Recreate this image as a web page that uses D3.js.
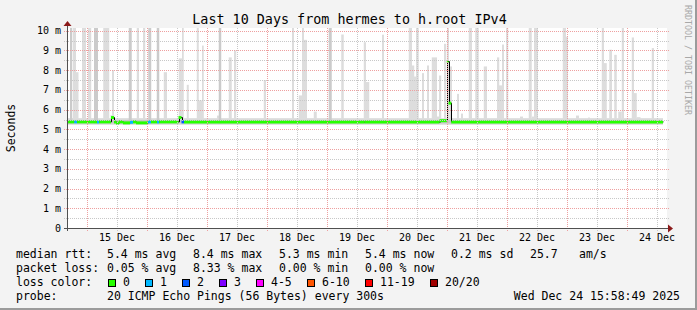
<!DOCTYPE html>
<html>
<head>
<meta charset="utf-8">
<script src="https://cdn.jsdelivr.net/npm/d3@7"></script>
<style>
  html, body { margin: 0; padding: 0; background: #f3f3f3; }
  svg { display: block; font-family: "DejaVu Sans Mono", monospace; }
  text { white-space: pre; }
</style>
</head>
<body>
<svg id="chart" width="697" height="310"></svg>
<script>
// ---- data ----
const title = "Last 10 Days from hermes to h.root IPv4";
const endTime = new Date(2025, 11, 24, 15, 58, 49);
const spanHours = 240;

const yTickValues = [0, 1, 2, 3, 4, 5, 6, 7, 8, 9, 10];
const yTickLabels = ["0", "1 m", "2 m", "3 m", "4 m", "5 m", "6 m", "7 m", "8 m", "9 m", "10 m"];
const dayLabels = ["15 Dec", "16 Dec", "17 Dec", "18 Dec", "19 Dec", "20 Dec", "21 Dec", "22 Dec", "23 Dec", "24 Dec"];
const dayLabelDates = [15, 16, 17, 18, 19, 20, 21, 22, 23, 24].map(d => new Date(2025, 11, d, 12));

// hours since start of graph, median ms, loss colour index
const medianRuns = [
  [0.0, 2.9, 5.38, 0], [2.9, 4.0, 5.38, 1], [4.0, 12.0, 5.38, 0], [12.0, 12.8, 5.38, 1],
  [12.8, 17.6, 5.38, 0], [17.6, 18.8, 5.60, 0], [18.8, 19.6, 5.38, 0], [19.6, 20.8, 5.32, 0],
  [20.8, 22.4, 5.38, 0], [22.4, 25.2, 5.33, 0], [25.2, 26.4, 5.36, 1], [26.4, 27.6, 5.38, 0],
  [27.6, 32.4, 5.33, 0], [32.4, 33.6, 5.38, 1], [33.6, 36.0, 5.38, 0], [36.0, 36.8, 5.38, 1],
  [36.8, 44.6, 5.38, 0], [44.6, 45.8, 5.60, 0], [45.8, 46.8, 5.38, 2], [46.8, 80.0, 5.38, 0],
  [80.0, 119.0, 5.37, 0], [119.0, 149.0, 5.37, 0], [149.0, 151.9, 5.44, 0], [151.9, 152.6, 8.44, 0],
  [152.6, 153.7, 6.33, 0], [153.7, 200.0, 5.38, 0], [200.0, 238.4, 5.38, 0]
];

// smoke: base band [h0, h1, low, high]
const smokeBand = [[0.0, 238.4, 5.23, 5.57]];
const smokeCore = [[0.0, 238.4, 5.30, 5.48]];

// smoke spikes: [h0, h1, top ms, shade]
const smokeSpikes = [
  [1.2, 2.1, 10.5, 2], [2.4, 3.6, 10.5, 1], [3.6, 4.6, 7.9, 1], [6.0, 7.6, 10.5, 1],
  [8.4, 9.7, 10.5, 1], [10.8, 12.4, 10.5, 2], [14.5, 16.9, 10.5, 1], [18.0, 18.8, 8.0, 1],
  [17.4, 19.0, 5.72, 1], [24.7, 25.9, 10.5, 2], [27.9, 28.8, 10.5, 1], [30.4, 31.3, 10.5, 1],
  [32.5, 33.7, 10.5, 2], [35.9, 36.9, 10.5, 2], [38.7, 40.0, 7.9, 1],
  [44.7, 46.0, 8.6, 1], [46.0, 46.7, 10.5, 1], [47.9, 48.7, 7.26, 1], [51.9, 52.7, 10.5, 1],
  [52.0, 54.5, 6.47, 1], [54.0, 54.7, 9.25, 1], [60.0, 61.2, 5.7, 1], [60.7, 61.7, 10.5, 2],
  [64.7, 65.9, 8.65, 1], [66.8, 67.7, 9.0, 1], [78.7, 79.6, 7.5, 1],
  [90.0, 90.8, 10.5, 1], [92.7, 94.0, 6.72, 1], [94.0, 94.8, 10.5, 1], [94.7, 96.0, 9.54, 1],
  [98.7, 99.9, 5.9, 1], [104.7, 105.9, 10.5, 2], [109.7, 110.7, 9.81, 1], [118.7, 119.6, 9.42, 1],
  [119.6, 120.9, 7.4, 1], [126.0, 126.8, 9.8, 1], [136.7, 138.0, 10.5, 1], [138.0, 138.9, 8.24, 1],
  [138.7, 139.6, 7.68, 1], [139.6, 140.7, 10.5, 1], [142.0, 142.8, 7.85, 1], [144.0, 144.8, 8.24, 1],
  [145.9, 148.0, 8.65, 1], [148.0, 148.8, 5.65, 1], [148.8, 149.7, 7.73, 1], [150.8, 151.7, 9.34, 1],
  [152.0, 152.8, 10.5, 1], [152.9, 154.0, 8.19, 1], [156.0, 156.8, 6.8, 1], [157.6, 158.4, 5.8, 1],
  [160.7, 162.0, 10.5, 1], [163.3, 164.7, 10.5, 1], [166.7, 168.0, 8.19, 1], [172.0, 172.9, 8.65, 1],
  [172.0, 174.7, 7.23, 1], [174.0, 174.8, 9.3, 1], [175.6, 176.5, 10.5, 1], [181.2, 182.4, 5.65, 1],
  [184.7, 185.9, 10.5, 1], [186.0, 186.8, 5.65, 1], [186.8, 188.4, 10.5, 1], [198.3, 199.6, 10.5, 1],
  [199.6, 200.4, 9.7, 1], [203.6, 204.8, 5.7, 1], [208.4, 209.2, 5.6, 1],
  [213.9, 214.8, 10.5, 1], [214.3, 215.9, 8.36, 1], [216.9, 218.0, 9.04, 1], [218.9, 219.9, 8.78, 1],
  [220.5, 221.9, 5.9, 1], [221.9, 222.8, 10.5, 1], [225.9, 226.8, 9.66, 1], [226.3, 227.9, 6.84, 1],
  [227.9, 229.4, 5.62, 1], [233.9, 234.8, 9.12, 1]
];

const lossLabels = ["0", "1", "2", "3", "4-5", "6-10", "11-19", "20/20"];
const lossColors = ["#26ff00", "#00b8ff", "#0059ff", "#7e00ff", "#ff00ff", "#ff5500", "#ff0000", "#a10000"];

const rttStats = ["5.4 ms avg", "8.4 ms max", "5.3 ms min", "5.4 ms now", "0.2 ms sd", "25.7", "am/s"];
const lossStats = ["0.05 % avg", "8.33 % max", "0.00 % min", "0.00 % now"];
const probeText = "20 ICMP Echo Pings (56 Bytes) every 300s";
const stampText = "Wed Dec 24 15:58:49 2025";

// ---- layout ----
const svg = d3.select("#chart");
const W = 697, H = 310;
const plot = { left: 67, right: 667, top: 28, bottom: 228 };

const startTime = new Date(+endTime - spanHours * 3600e3);
const hourToDate = h => new Date(+startTime + h * 3600e3);

const x = d3.scaleTime().domain([startTime, endTime]).range([plot.left, plot.right]);
const y = d3.scaleLinear().domain([0, 10.14]).range([plot.bottom, plot.top]);

// background + frame shading
svg.append("rect").attr("width", W).attr("height", H).attr("fill", "#f3f3f3");
svg.append("rect").attr("x", 0).attr("y", H - 2).attr("width", W).attr("height", 2).attr("fill", "#9b9b9b");
svg.append("rect").attr("x", W - 2).attr("y", 0).attr("width", 2).attr("height", H).attr("fill", "#9b9b9b");

// canvas
svg.append("rect")
  .attr("x", plot.left).attr("y", plot.top)
  .attr("width", plot.right - plot.left).attr("height", plot.bottom - plot.top)
  .attr("fill", "#ffffff");

svg.append("defs").append("clipPath").attr("id", "clip")
  .append("rect")
  .attr("x", plot.left).attr("y", plot.top)
  .attr("width", plot.right - plot.left).attr("height", plot.bottom - plot.top);

const g = svg.append("g").attr("clip-path", "url(#clip)");

// smoke
g.selectAll(".band").data(smokeBand).join("rect")
  .attr("x", d => x(hourToDate(d[0])))
  .attr("width", d => x(hourToDate(d[1])) - x(hourToDate(d[0])))
  .attr("y", d => y(d[3]))
  .attr("height", d => y(d[2]) - y(d[3]))
  .attr("fill", "#dddddd");

g.selectAll(".spike").data(smokeSpikes).join("rect")
  .attr("x", d => x(hourToDate(d[0])))
  .attr("width", d => x(hourToDate(d[1])) - x(hourToDate(d[0])))
  .attr("y", d => y(d[2]))
  .attr("height", d => y(5.3) - y(d[2]))
  .attr("fill", d => d[3] === 2 ? "#cbcbcb" : "#dddddd");

g.selectAll(".core").data(smokeCore).join("rect")
  .attr("x", d => x(hourToDate(d[0])))
  .attr("width", d => x(hourToDate(d[1])) - x(hourToDate(d[0])))
  .attr("y", d => y(d[3]))
  .attr("height", d => y(d[2]) - y(d[3]))
  .attr("fill", "#c4c4c4");

// grid
const minorY = d3.range(0.5, 10.1, 1);
const grid = svg.append("g");
grid.selectAll(".hminor").data(minorY).join("line")
  .attr("x1", plot.left - 3).attr("x2", plot.right + 2)
  .attr("y1", d => Math.round(y(d)) + 0.5).attr("y2", d => Math.round(y(d)) + 0.5)
  .attr("stroke", "#c8c8c8").attr("stroke-dasharray", "1,1");
grid.selectAll(".hmajor").data(yTickValues.slice(1)).join("line")
  .attr("x1", plot.left - 3).attr("x2", plot.right + 2)
  .attr("y1", d => Math.round(y(d)) + 0.5).attr("y2", d => Math.round(y(d)) + 0.5)
  .attr("stroke", "#eea0a0").attr("stroke-dasharray", "1,1");

const noons = d3.timeHour.every(12).range(startTime, endTime).filter(d => d.getHours() === 12);
const midnights = d3.timeDay.range(startTime, endTime);
grid.selectAll(".vminor").data(noons).join("line")
  .attr("x1", d => Math.round(x(d)) + 0.5).attr("x2", d => Math.round(x(d)) + 0.5)
  .attr("y1", plot.top).attr("y2", plot.bottom + 3)
  .attr("stroke", "#c8c8c8").attr("stroke-dasharray", "1,1");
grid.selectAll(".vmajor").data(midnights).join("line")
  .attr("x1", d => Math.round(x(d)) + 0.5).attr("x2", d => Math.round(x(d)) + 0.5)
  .attr("y1", plot.top).attr("y2", plot.bottom + 3)
  .attr("stroke", "#eea0a0").attr("stroke-dasharray", "1,1");

// median: thin black step line underneath, loss-coloured pieces on top
const medianPts = [];
medianRuns.forEach(r => { medianPts.push([r[0], r[2]], [r[1], r[2]]); });
g.append("path")
  .datum(medianPts)
  .attr("fill", "none")
  .attr("stroke", "#000")
  .attr("stroke-width", 1)
  .attr("d", d3.line().x(d => Math.round(x(hourToDate(d[0]))) + 0.5).y(d => y(d[1])));

g.selectAll(".med").data(medianRuns).join("line")
  .attr("x1", d => x(hourToDate(d[0])))
  .attr("x2", d => x(hourToDate(d[1])))
  .attr("y1", d => y(d[2])).attr("y2", d => y(d[2]))
  .attr("stroke", d => lossColors[d[3]])
  .attr("stroke-width", 3);

// axes
const axisColor = "#505050";
const arrowColor = "#8b1a1a";
svg.append("line")
  .attr("x1", plot.left - 3).attr("x2", plot.right + 2)
  .attr("y1", plot.bottom + 0.5).attr("y2", plot.bottom + 0.5)
  .attr("stroke", axisColor);
svg.append("line")
  .attr("x1", plot.left + 0.5).attr("x2", plot.left + 0.5)
  .attr("y1", plot.bottom + 3).attr("y2", plot.top - 3)
  .attr("stroke", axisColor);
svg.append("path")
  .attr("d", `M${plot.right + 1},${plot.bottom - 3.5}L${plot.right + 6},${plot.bottom + 0.5}L${plot.right + 1},${plot.bottom + 4.5}Z`)
  .attr("fill", arrowColor);
svg.append("path")
  .attr("d", `M${plot.left - 3.5},${plot.top - 2}L${plot.left + 0.5},${plot.top - 7}L${plot.left + 4.5},${plot.top - 2}Z`)
  .attr("fill", arrowColor);

// y labels
svg.selectAll(".ylab").data(yTickValues).join("text")
  .attr("x", 61)
  .attr("y", d => y(d) + 3.5)
  .attr("text-anchor", "end")
  .style("font-size", "10px")
  .attr("fill", "#000")
  .text((d, i) => yTickLabels[i]);

// x labels
svg.selectAll(".xlab").data(dayLabelDates).join("text")
  .attr("x", d => x(d))
  .attr("y", 241)
  .attr("text-anchor", "middle")
  .style("font-size", "10px")
  .text((d, i) => dayLabels[i]);

// title
svg.append("text")
  .attr("x", 349.5).attr("y", 24)
  .attr("text-anchor", "middle")
  .style("font-size", "13.4px")
  .text(title);

svg.append("text")
  .attr("transform", "translate(15,128) rotate(-90)")
  .attr("text-anchor", "middle")
  .style("font-size", "11.5px")
  .text("Seconds");

svg.append("text")
  .attr("transform", "translate(685,5) rotate(90)")
  .style("font-size", "8.3px")
  .attr("fill", "#a8a8a8")
  .text("RRDTOOL / TOBI OETIKER");

// legend
const legend = svg.append("g").style("font-size", "11.5px");
const rowY = [258, 272, 286, 300];
const statX = [107, 193, 279, 365, 451, 530, 579];

legend.append("text").attr("x", 16).attr("y", rowY[0]).text("median rtt:");
rttStats.forEach((s, i) => legend.append("text").attr("x", statX[i]).attr("y", rowY[0]).text(s));
legend.append("text").attr("x", 16).attr("y", rowY[1]).text("packet loss:");
lossStats.forEach((s, i) => legend.append("text").attr("x", statX[i]).attr("y", rowY[1]).text(s));

legend.append("text").attr("x", 16).attr("y", rowY[2]).text("loss color:");
const boxX = [108.5, 145.5, 182.5, 219.5, 256.5, 307.5, 365.5, 430.5];
lossLabels.forEach((lab, i) => {
  legend.append("rect")
    .attr("x", boxX[i]).attr("y", 279.5)
    .attr("width", 7).attr("height", 7)
    .attr("fill", lossColors[i])
    .attr("stroke", "#000");
  legend.append("text").attr("x", boxX[i] + 14.5).attr("y", rowY[2]).text(lab);
});

legend.append("text").attr("x", 16).attr("y", rowY[3]).text("probe:");
legend.append("text").attr("x", 107).attr("y", rowY[3]).text(probeText);
legend.append("text").attr("x", 680).attr("y", rowY[3]).attr("text-anchor", "end").text(stampText);
</script>
</body>
</html>
